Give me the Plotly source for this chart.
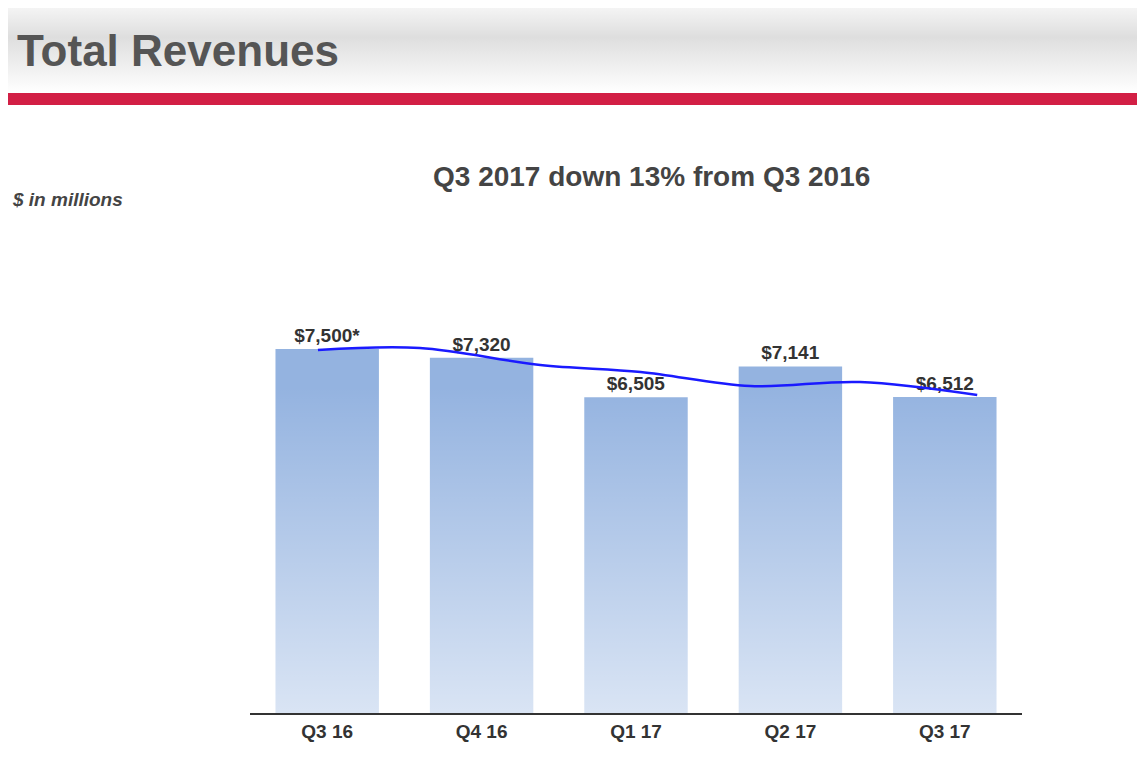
import base64
from plotly import graph_objects as go

quarters = ["Q3 16", "Q4 16", "Q1 17", "Q2 17", "Q3 17"]
revenues = [7500, 7320, 6505, 7141, 6512]
bar_labels = ["$7,500*", "$7,320", "$6,505", "$7,141", "$6,512"]

# hand-drawn trend stroke over the bars (x in category units)
stroke_x = [-0.06, 0.6, 1.38, 2.03, 2.74, 3.45, 4.21]
stroke_y = [7479, 7520, 7170, 7026, 6737, 6820, 6552]

FONT = "Liberation Sans, Arial, sans-serif"

# page renders with ~8px body offset, so compensate
L, R, T, B = 242, 131, 252, 54
PW, PH = 1145 - L - R, 759 - T - B


def svg_uri(svg):
    return "data:image/svg+xml;base64," + base64.b64encode(svg.encode()).decode()


def py(pix):
    # screen pixel row (reference) -> paper y
    return 1 + (T - (pix - 8)) / PH


def px(pix):
    return (pix - 8 - L) / PW


fade = svg_uri(
    '<svg xmlns="http://www.w3.org/2000/svg" width="100" height="100" preserveAspectRatio="none">'
    '<defs><linearGradient id="g" x1="0" y1="0" x2="0" y2="1">'
    '<stop offset="0.2" stop-color="white" stop-opacity="0"/>'
    '<stop offset="1" stop-color="white" stop-opacity="0.65"/></linearGradient></defs>'
    '<rect width="100" height="100" fill="url(#g)"/></svg>')

header = svg_uri(
    '<svg xmlns="http://www.w3.org/2000/svg" width="100" height="100" preserveAspectRatio="none">'
    '<defs><linearGradient id="h" x1="0" y1="0" x2="0" y2="1">'
    '<stop offset="0" stop-color="#fafafa"/><stop offset="0.4" stop-color="#dedede"/>'
    '<stop offset="1" stop-color="#ffffff"/></linearGradient></defs>'
    '<rect width="100" height="100" fill="url(#h)"/></svg>')

fig = go.Figure()
fig.add_trace(go.Bar(
    x=list(range(len(quarters))), y=revenues, width=0.67,
    marker=dict(color="#94b3e0", line=dict(width=0)),
    text=["<b>%s</b>" % t for t in bar_labels], textposition="outside", cliponaxis=False,
    textfont=dict(size=19, color="#333333", family=FONT),
))
fig.add_trace(go.Scatter(
    x=stroke_x, y=stroke_y, mode="lines",
    line=dict(color="#1a1aff", width=2.5, shape="spline", smoothing=1.0),
))

fig.update_layout(
    width=1145, height=759,
    margin=dict(l=L, r=R, t=T, b=B),
    paper_bgcolor="white", plot_bgcolor="white",
    showlegend=False, bargap=0.33,
    xaxis=dict(tickmode="array", tickvals=list(range(len(quarters))),
               ticktext=["<b>%s</b>" % q for q in quarters],
               range=[-0.5, 4.5], showgrid=False, showline=True, linecolor="#333333",
               linewidth=1.5, ticks="", zeroline=False,
               tickfont=dict(size=19, color="#333333", family=FONT)),
    yaxis=dict(range=[0, 9334], visible=False, showgrid=False, zeroline=False),
    images=[
        dict(source=fade, xref="paper", yref="paper", x=0, y=0.9, sizex=1, sizey=0.9,
             xanchor="left", yanchor="top", sizing="stretch", layer="above"),
        dict(source=header, xref="paper", yref="paper", x=px(0), y=py(0),
             sizex=1145 / PW, sizey=93 / PH, xanchor="left", yanchor="top",
             sizing="stretch", layer="below"),
    ],
    shapes=[dict(type="rect", xref="paper", yref="paper", x0=px(0), x1=px(1160),
                 y0=py(105), y1=py(93), fillcolor="#d21f45", line=dict(width=0))],
    annotations=[
        dict(text="<b>Total Revenues</b>", xref="paper", yref="paper",
             x=px(15), y=py(50), xanchor="left", yanchor="middle",
             showarrow=False, font=dict(size=44, color="#555555", family=FONT)),
        dict(text="<b><i>$ in millions</i></b>", xref="paper", yref="paper",
             x=px(10), y=py(199), xanchor="left", yanchor="middle",
             showarrow=False, font=dict(size=19, color="#444444", family=FONT)),
        dict(text="<b>Q3 2017 down 13% from Q3 2016</b>", xref="paper", yref="paper",
             x=px(651), y=py(177), xanchor="center", yanchor="middle",
             showarrow=False, font=dict(size=28, color="#444444", family=FONT)),
    ],
)

fig.write_html("out.html")
